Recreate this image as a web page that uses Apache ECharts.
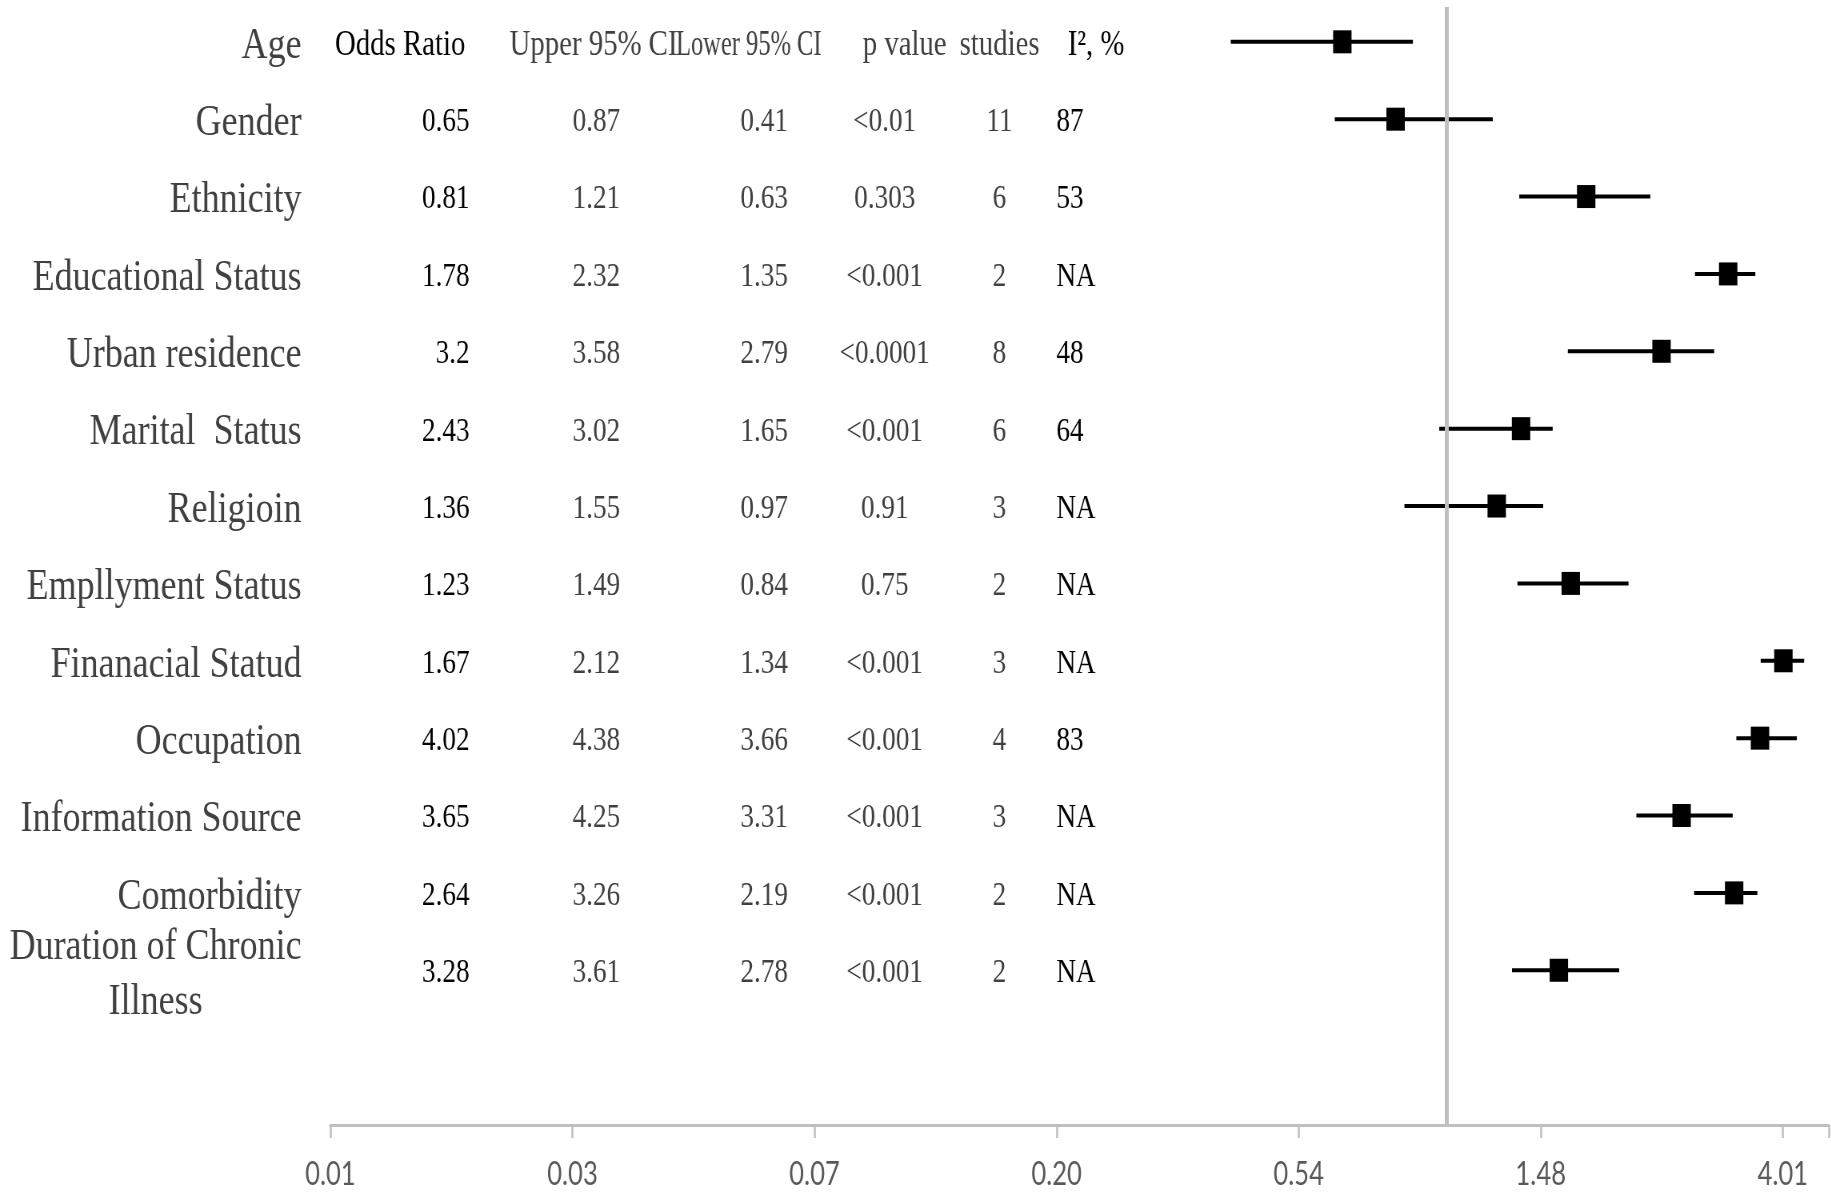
<!DOCTYPE html>
<html>
<head>
<meta charset="utf-8">
<title>Forest plot</title>
<script src="https://cdn.jsdelivr.net/npm/echarts@6/dist/echarts.min.js"></script>
<style>
  html, body { margin: 0; padding: 0; background: #fff; overflow: hidden; }
  #frame { width: 1831px; height: 1192px; overflow: hidden; }
  /* the source figure is squeezed sideways, so draw it wide and squeeze it the same way */
  #main { width: 2289px; height: 1192px; transform: scaleX(0.8); transform-origin: 0 0; }
</style>
</head>
<body>
<div id="frame"><div id="main"></div></div>
<script>
"use strict";

// rows, top to bottom
var rowNames = [
  "Age", "Gender", "Ethnicity", "Educational Status", "Urban residence",
  "Marital  Status", "Religioin", "Empllyment Status", "Finanacial Statud",
  "Occupation", "Information Source", "Comorbidity", "Duration of Chronic\nIllness",
];

// plotted odds ratio and 95% CI on each row
var orPoint = [0.65, 0.81, 1.78, 3.2, 2.43, 1.36, 1.23, 1.67, 4.02, 3.65, 2.64, 3.28, 1.59];
var orLow = [0.41, 0.63, 1.35, 2.79, 1.65, 0.97, 0.84, 1.34, 3.66, 3.31, 2.19, 2.78, 1.31];
var orHigh = [0.87, 1.21, 2.32, 3.58, 3.02, 1.55, 1.49, 2.12, 4.38, 4.25, 3.26, 3.61, 2.04];

// the printed table: header on the Age line, body starts on the Gender line
var headers = ["Odds Ratio", "Upper 95% CI", "Lower 95% CI", "p value", "studies", "I², %"];
var tabOR = ["0.65", "0.81", "1.78", "3.2", "2.43", "1.36", "1.23", "1.67", "4.02", "3.65", "2.64", "3.28"];
var tabUpper = ["0.87", "1.21", "2.32", "3.58", "3.02", "1.55", "1.49", "2.12", "4.38", "4.25", "3.26", "3.61"];
var tabLower = ["0.41", "0.63", "1.35", "2.79", "1.65", "0.97", "0.84", "1.34", "3.66", "3.31", "2.19", "2.78"];
var tabP = ["<0.01", "0.303", "<0.001", "<0.0001", "<0.001", "0.91", "0.75", "<0.001", "<0.001", "<0.001", "<0.001", "<0.001"];
var tabStudies = ["11", "6", "2", "8", "6", "3", "2", "3", "4", "3", "2", "2"];
var tabI2 = ["87", "53", "NA", "48", "64", "NA", "NA", "NA", "83", "NA", "NA", "NA"];

var tickLabels = ["0.01", "0.03", "0.07", "0.20", "0.54", "1.48", "4.01"];

// log base e axis, starting a hair under 0.01
var AXIS_MIN = 0.00994;
var ROW_TOP = 14;

function lx(v) {
  return Math.log(v / AXIS_MIN);
}
function rowY(i) {
  return ROW_TOP - i;
}

var serif = "'Liberation Serif', 'Times New Roman', serif";
var grey = "#404040";

// where each table column sits, in axis units
var columns = [
  { text: tabOR, at: 0.575, align: "right", color: "#000" },
  { text: tabUpper, at: 1.197, align: "right", color: grey },
  { text: tabLower, at: 1.89, align: "right", color: grey },
  { text: tabP, at: 2.29, align: "center", color: grey },
  { text: tabStudies, at: 2.764, align: "center", color: grey },
  { text: tabI2, at: 2.999, align: "left", color: "#000" },
];
var headerAt = [0.019, 0.74, 1.428, 2.199, 2.599, 3.046];
var headerColor = ["#000", grey, grey, grey, grey, "#000"];
// the "Lower 95% CI" heading is squashed in the source
var headerSqueeze = [1, 1, 0.85, 1, 1, 1];

var cells = [];
headers.forEach(function (h, k) {
  cells.push({ x: headerAt[k], y: ROW_TOP, text: h, align: "left", color: headerColor[k], size: 36, dy: 3.5, sx: headerSqueeze[k] });
});
columns.forEach(function (col) {
  col.text.forEach(function (t, i) {
    cells.push({ x: col.at, y: rowY(i + 1), text: t, align: col.align, color: col.color, size: 34, dy: 3, sx: 1 });
  });
});

var chartDom = document.getElementById("main");
var myChart = echarts.init(chartDom);

var option = {
  backgroundColor: "#fff",
  animation: false,
  grid: { left: 413, right: 0, top: 7, bottom: 67 },
  xAxis: {
    type: "value",
    min: 0,
    max: 6.19,
    interval: 1,
    splitLine: { show: false },
    axisLine: { show: true, lineStyle: { color: "#bfbfbf", width: 3 } },
    axisTick: { show: true, length: 13, lineStyle: { color: "#bfbfbf", width: 2.5 } },
    axisLabel: {
      margin: 50,
      verticalAlign: "middle",
      fontFamily: "Lato, 'Open Sans', sans-serif",
      fontSize: 32,
      color: "#595959",
      formatter: function (v) {
        return tickLabels[v] || "";
      },
    },
  },
  yAxis: {
    type: "value",
    min: 0,
    max: 14.45,
    interval: 1,
    splitLine: { show: false },
    axisLine: { show: false },
    axisTick: { show: false },
    axisLabel: {
      margin: 36,
      padding: [8, 0, 0, 0],
      fontFamily: serif,
      fontSize: 45,
      lineHeight: 54,
      color: grey,
      formatter: function (v) {
        var name = rowNames[ROW_TOP - v];
        if (name === undefined) return "";
        if (name.indexOf("\n") >= 0) {
          return name.split("\n").map(function (s) { return "{c|" + s + "}"; }).join("\n");
        }
        return name;
      },
      rich: {
        c: { align: "center", fontFamily: serif, fontSize: 45, lineHeight: 55, color: grey },
      },
    },
  },
  series: [
    {
      // OR = 1 reference line
      type: "line",
      data: [],
      z: 1,
      markLine: {
        silent: true,
        symbol: ["none", "none"],
        label: { show: false },
        lineStyle: { color: "#bfbfbf", width: 5, type: "solid" },
        data: [{ xAxis: lx(1) }],
      },
    },
    {
      type: "custom",
      z: 3,
      encode: { x: [0, 1], y: 2 },
      data: orPoint.map(function (v, i) {
        return [lx(orLow[i]), lx(orHigh[i]), rowY(i)];
      }),
      renderItem: function (params, api) {
        var y = api.value(2);
        var a = api.coord([api.value(0), y]);
        var b = api.coord([api.value(1), y]);
        return {
          type: "line",
          shape: { x1: a[0], y1: a[1], x2: b[0], y2: b[1] },
          style: { stroke: "#000", lineWidth: 4 },
        };
      },
    },
    {
      type: "scatter",
      z: 4,
      symbol: "rect",
      symbolSize: [23, 23],
      itemStyle: { color: "#000", opacity: 1 },
      data: orPoint.map(function (v, i) {
        return [lx(v), rowY(i)];
      }),
    },
    {
      // table text
      type: "custom",
      z: 5,
      silent: true,
      data: cells.map(function (c) {
        return [c.x, c.y];
      }),
      renderItem: function (params, api) {
        var c = cells[params.dataIndex];
        var p = api.coord([api.value(0), api.value(1)]);
        return {
          type: "text",
          x: p[0],
          y: p[1] + c.dy,
          scaleX: c.sx,
          style: {
            text: c.text,
            fill: c.color,
            fontSize: c.size,
            fontFamily: serif,
            align: c.align,
            verticalAlign: "middle",
          },
        };
      },
    },
  ],
};

option && myChart.setOption(option);
</script>
</body>
</html>
